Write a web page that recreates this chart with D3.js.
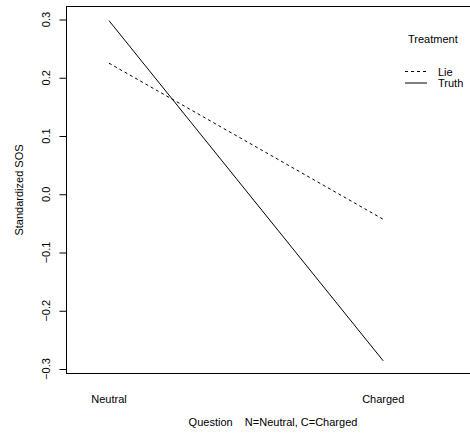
<!DOCTYPE html>
<html><head><meta charset="utf-8">
<script src="https://cdn.jsdelivr.net/npm/d3@7"></script>
<style>body{margin:0;background:#fff}svg{display:block}text{font-family:"Liberation Sans",Arial,sans-serif;fill:#000}</style>
</head><body><svg id="c" width="470" height="434"></svg>
<script>
const categories = ["Neutral", "Charged"];
const seriesNames = ["Lie", "Truth"];
const lieValues = [0.225, -0.043];
const truthValues = [0.298, -0.286];
const yTicks = [0.3, 0.2, 0.1, 0.0, -0.1, -0.2, -0.3];
const xTitle = "Question    N=Neutral, C=Charged";
const yTitle = "Standardized SOS";
const legendTitle = "Treatment";

const svg = d3.select("#c");
const L = 66.5, R = 471, T = 6.5, B = 373.5;
const y = d3.scaleLinear().domain([-0.3077, 0.3223]).range([B, T]);
const x = d3.scaleLinear().domain([0.845, 2.32]).range([L, R]);
const xPos = d => x(categories.indexOf(d) + 1);

svg.append("rect").attr("x", L).attr("y", T).attr("width", R - L).attr("height", B - T)
  .attr("fill", "none").attr("stroke", "#000").attr("stroke-width", 1);

const yAxis = svg.append("g").attr("transform", `translate(${L},0)`)
  .call(d3.axisLeft(y).tickValues(yTicks).tickSize(7).tickFormat(d3.format(".1f")));
yAxis.select(".domain").remove();
yAxis.selectAll("text").remove();
yAxis.selectAll("line").attr("stroke", "#000");
svg.append("g").selectAll("text").data(yTicks).join("text")
  .attr("transform", d => `translate(50,${y(d)}) rotate(-90)`)
  .attr("text-anchor", "middle").attr("font-size", 11)
  .text(d => d3.format(".1f")(d));

svg.append("g").selectAll("text").data(categories).join("text")
  .attr("x", d => xPos(d)).attr("y", 403).attr("text-anchor", "middle").attr("font-size", 11)
  .text(d => d);

svg.append("text").attr("x", 273).attr("y", 425.5).attr("text-anchor", "middle")
  .attr("font-size", 11).attr("xml:space", "preserve").style("white-space", "pre").text(xTitle);
svg.append("text").attr("transform", "translate(23,190) rotate(-90)")
  .attr("text-anchor", "middle").attr("font-size", 11).text(yTitle);

const line = d3.line().x((d, i) => xPos(categories[i])).y(d => y(d));
const series = [{name: seriesNames[0], vals: lieValues, dash: "3,3"},
                {name: seriesNames[1], vals: truthValues, dash: null}];
svg.append("g").selectAll("path").data(series).join("path")
  .attr("d", d => line(d.vals)).attr("fill", "none").attr("stroke", "#000")
  .attr("stroke-width", 1).attr("stroke-dasharray", d => d.dash);

svg.append("text").attr("x", 408).attr("y", 43).attr("font-size", 11).text(legendTitle);
const lg = svg.append("g").selectAll("g").data(series).join("g")
  .attr("transform", (d, i) => `translate(0,${71.5 + i * 11.5})`);
lg.append("line").attr("x1", 405).attr("x2", 427).attr("y1", 0).attr("y2", 0)
  .attr("stroke", "#000").attr("stroke-width", 1).attr("stroke-dasharray", d => d.dash);
lg.append("text").attr("x", 438).attr("y", 4).attr("font-size", 11).text(d => d.name);
</script></body></html>
